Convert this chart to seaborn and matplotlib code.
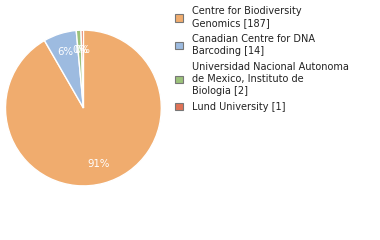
import matplotlib
matplotlib.use("Agg")
import matplotlib.pyplot as plt
import seaborn as sns
from matplotlib.patches import Patch

sns.set_theme(style="white")
plt.rcParams['font.family'] = ['DejaVu Sans']

labels = ["Centre for Biodiversity\nGenomics [187]",
          "Canadian Centre for DNA\nBarcoding [14]",
          "Universidad Nacional Autonoma\nde Mexico, Instituto de\nBiologia [2]",
          "Lund University [1]"]
values = [187, 14, 2, 1]
colors = ["#F0AC6E", "#9DBBE0", "#9BC27A", "#E07256"]

fig = plt.figure(figsize=(3.8, 2.4), dpi=100)
ax = fig.add_axes([0.0145, 0.225, 0.41, 0.65])
wedges, texts, autotexts = ax.pie(values, colors=colors, startangle=90, counterclock=False,
                                  autopct=lambda p: f"{int(p)}%", pctdistance=0.75,
                                  textprops=dict(color='white', fontsize=7.3))
ax.set_xlim(-1, 1)
ax.set_ylim(-1, 1)
ax.set_aspect('equal')

handles = [Patch(facecolor=c, edgecolor='#777777', linewidth=0.8) for c in colors]
leg = fig.legend(handles, labels, loc='upper left', bbox_to_anchor=(0.45, 0.99),
                 frameon=False, fontsize=7, handlelength=0.8, handleheight=0.8,
                 handletextpad=1.0, labelspacing=0.6, borderaxespad=0)
for t in leg.get_texts():
    t.set_linespacing(1.25)
    t.set_color('#222222')
fig.savefig("out.png", dpi=100)
